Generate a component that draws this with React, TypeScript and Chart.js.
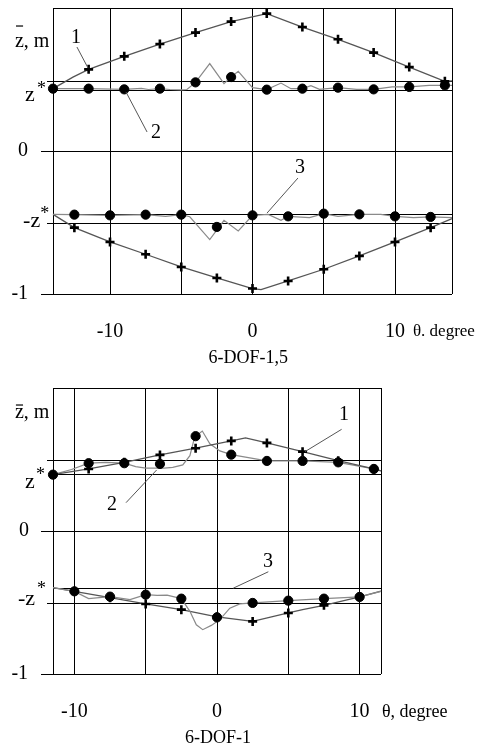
import React, { useEffect, useRef } from "react";
import { Chart, registerables } from "chart.js";
Chart.register(...registerables);

// ================= TOP CHART: 6-DOF-1,5 =================
const topThetaRange = [-14, 14];
const topGridTheta = [-14, -10, -5, 0, 5, 10, 14];
// curve 1 (crosses, upper)
const top1Theta = [-14, -12.6, -11.5, -9, -6.5, -4, -1.5, 1, 3.5, 6, 8.5, 11, 13.5, 14];
const top1Z = [0.436, 0.517, 0.571, 0.662, 0.748, 0.828, 0.905, 0.961, 0.867, 0.781, 0.688, 0.587, 0.487, 0.49];
const top1MarkTheta = [-11.5, -9, -6.5, -4, -1.5, 1, 3.5, 6, 8.5, 11, 13.5];
const top1MarkZ = [0.571, 0.662, 0.748, 0.828, 0.905, 0.961, 0.867, 0.781, 0.688, 0.587, 0.487];
// curve 2 (dots, upper, thin line)
const top2Theta = [-14, -11.5, -9, -7.8, -7.3, -6.5, -5.8, -5, -4.6, -4, -3, -2, -1.5, -1, -0.45, 0, 1, 2, 2.7, 3.5, 4.1, 4.7, 6, 7.3, 8.5, 9.8, 11, 12.4, 14];
const top2Z = [0.436, 0.436, 0.431, 0.438, 0.43, 0.436, 0.43, 0.428, 0.43, 0.48, 0.611, 0.471, 0.517, 0.557, 0.494, 0.443, 0.429, 0.475, 0.436, 0.436, 0.457, 0.431, 0.443, 0.431, 0.431, 0.448, 0.448, 0.459, 0.459];
const top2MarkTheta = [-14, -11.5, -9, -6.5, -4, -1.5, 1, 3.5, 6, 8.5, 11, 13.5];
const top2MarkZ = [0.436, 0.436, 0.431, 0.436, 0.48, 0.517, 0.429, 0.436, 0.443, 0.431, 0.448, 0.459];
// curve 3 (dots, lower, thin line)
const top3Theta = [-14, -12.5, -10, -7.5, -6.1, -5, -4.4, -3, -2, -1, 0, 1.1, 2, 2.5, 4, 5, 6, 7.5, 9, 10, 11.3, 12.5, 14];
const top3Z = [-0.443, -0.445, -0.45, -0.445, -0.457, -0.445, -0.46, -0.62, -0.485, -0.559, -0.45, -0.443, -0.485, -0.457, -0.466, -0.438, -0.457, -0.443, -0.443, -0.457, -0.466, -0.461, -0.466];
const top3MarkTheta = [-12.5, -10, -7.5, -5, -2.5, 0, 2.5, 5, 7.5, 10, 12.5];
const top3MarkZ = [-0.445, -0.45, -0.445, -0.445, -0.531, -0.45, -0.457, -0.438, -0.443, -0.457, -0.461];
// curve 4 (crosses, lower)
const top4Theta = [-14, -12.5, -10, -7.5, -5, -2.5, 0, 0.6, 2.5, 5, 7.5, 10, 12.5, 14];
const top4Z = [-0.443, -0.536, -0.636, -0.722, -0.811, -0.888, -0.962, -0.969, -0.909, -0.827, -0.734, -0.636, -0.536, -0.473];
const top4MarkTheta = [-12.5, -10, -7.5, -5, -2.5, 0, 2.5, 5, 7.5, 10, 12.5];
const top4MarkZ = [-0.536, -0.636, -0.722, -0.811, -0.888, -0.962, -0.909, -0.827, -0.734, -0.636, -0.536];
// reference levels z*
const topLevels = [0.49, 0.43, -0.44, -0.5];
const topLevelTicked = [true, false, false, true];

// ================= BOTTOM CHART: 6-DOF-1 =================
const botThetaRange = [-11.5, 11.5];
const botGridTheta = [-11.5, -10, -5, 0, 5, 10, 11.5];
const bot1Theta = [-11.5, -9, -6.5, -4, -1.5, 1, 2, 3.5, 6, 8.5, 11, 11.5];
const bot1Z = [0.394, 0.434, 0.48, 0.532, 0.579, 0.63, 0.651, 0.616, 0.555, 0.492, 0.434, 0.42];
const bot1MarkTheta = [-9, -6.5, -4, -1.5, 1, 3.5, 6, 8.5, 11];
const bot1MarkZ = [0.434, 0.48, 0.532, 0.579, 0.63, 0.616, 0.555, 0.492, 0.434];
const bot2Theta = [-11.5, -10.2, -9, -7.8, -6.5, -5.7, -5, -4.4, -3.7, -3.1, -2.4, -1.9, -1.65, -1.5, -1.03, -0.5, 0.2, 1, 3.5, 6, 8.5, 11, 11.5];
const bot2Z = [0.394, 0.43, 0.474, 0.48, 0.474, 0.45, 0.44, 0.44, 0.44, 0.445, 0.462, 0.527, 0.625, 0.663, 0.699, 0.61, 0.56, 0.534, 0.49, 0.49, 0.48, 0.434, 0.42];
const bot2MarkTheta = [-11.5, -9, -6.5, -4, -1.5, 1, 3.5, 6, 8.5, 11];
const bot2MarkZ = [0.394, 0.474, 0.474, 0.469, 0.663, 0.534, 0.49, 0.49, 0.48, 0.434];
const bot3Theta = [-11.5, -10, -9, -7.5, -6.1, -5, -4.2, -3.5, -2.5, -1.9, -1.45, -1, -0.4, 0.2, 0.9, 1.6, 2.5, 5, 7.5, 10, 11.5];
const bot3Z = [-0.396, -0.422, -0.473, -0.459, -0.48, -0.445, -0.45, -0.448, -0.473, -0.562, -0.656, -0.69, -0.66, -0.62, -0.54, -0.51, -0.503, -0.487, -0.473, -0.461, -0.422];
const bot3MarkTheta = [-10, -7.5, -5, -2.5, 0, 2.5, 5, 7.5, 10];
const bot3MarkZ = [-0.422, -0.459, -0.445, -0.473, -0.604, -0.503, -0.487, -0.473, -0.461];
const bot4Theta = [-11.5, -10, -7.5, -5, -2.5, 0, 2.5, 5, 6, 7.5, 10, 11.5];
const bot4Z = [-0.396, -0.422, -0.466, -0.51, -0.55, -0.6, -0.632, -0.573, -0.55, -0.52, -0.461, -0.42];
const bot4MarkTheta = [-10, -7.5, -5, -2.5, 0, 2.5, 5, 7.5, 10];
const bot4MarkZ = [-0.422, -0.466, -0.51, -0.55, -0.6, -0.632, -0.573, -0.52, -0.461];
const botLevels = [0.5, 0.4, -0.4, -0.5];
const botLevelTicked = [true, false, false, true];

const xTickLabels = ["-10", "0", "10"];
const xTickValues = [-10, 0, 10];

const FONT = '"Liberation Serif", "Times New Roman", serif';

type Txt = { t: string; x: number; y: number; align?: CanvasTextAlign; base?: CanvasTextBaseline; size?: number };
type Seg = [number, number, number, number];

const pts = (xs: number[], ys: number[]) => xs.map((x, i) => ({ x, y: ys[i] }));

function lineDs(xs: number[], ys: number[], color: string, width: number) {
  return {
    data: pts(xs, ys),
    showLine: true,
    borderColor: color,
    borderWidth: width,
    pointRadius: 0,
    tension: 0,
    order: 2,
    clip: false as any,
  };
}
function markDs(xs: number[], ys: number[], style: "cross" | "circle") {
  return {
    data: pts(xs, ys),
    showLine: false,
    pointStyle: style,
    pointRadius: style === "cross" ? 4.5 : 4.6,
    borderWidth: style === "cross" ? 2.6 : 1,
    borderColor: "#000",
    backgroundColor: "#000",
    order: 1,
    clip: false as any,
  };
}

function makeOverlay(levels: number[], ticked: boolean[], texts: Txt[], leaders: Seg[], overline: Seg) {
  return {
    id: "overlay",
    beforeDatasetsDraw(chart: any) {
      const { ctx, chartArea } = chart;
      const ys = chart.scales.y;
      ctx.save();
      ctx.strokeStyle = "#000";
      ctx.lineWidth = 1;
      levels.forEach((v, i) => {
        const y = Math.round(ys.getPixelForValue(v)) + 0.5;
        ctx.beginPath();
        ctx.moveTo(chartArea.left - (ticked[i] ? 6 : 0), y);
        ctx.lineTo(chartArea.right, y);
        ctx.stroke();
      });
      ctx.restore();
    },
    afterDraw(chart: any) {
      const { ctx } = chart;
      const xs = chart.scales.x;
      const ys = chart.scales.y;
      ctx.save();
      ctx.fillStyle = "#000";
      texts.forEach((tx) => {
        ctx.font = `${tx.size ?? 20}px ${FONT}`;
        ctx.textAlign = tx.align ?? "center";
        ctx.textBaseline = tx.base ?? "alphabetic";
        ctx.fillText(tx.t, xs.getPixelForValue(tx.x), ys.getPixelForValue(tx.y));
      });
      ctx.strokeStyle = "#555";
      ctx.lineWidth = 1;
      leaders.forEach((s) => {
        ctx.beginPath();
        ctx.moveTo(xs.getPixelForValue(s[0]), ys.getPixelForValue(s[1]));
        ctx.lineTo(xs.getPixelForValue(s[2]), ys.getPixelForValue(s[3]));
        ctx.stroke();
      });
      ctx.strokeStyle = "#000";
      ctx.lineWidth = 1.2;
      ctx.beginPath();
      ctx.moveTo(xs.getPixelForValue(overline[0]), ys.getPixelForValue(overline[1]));
      ctx.lineTo(xs.getPixelForValue(overline[2]), ys.getPixelForValue(overline[3]));
      ctx.stroke();
      ctx.restore();
    },
  };
}

function makeConfig(opts: {
  range: number[];
  grid: number[];
  datasets: any[];
  padding: any;
  overlay: any;
}) {
  return {
    type: "scatter" as const,
    data: { datasets: opts.datasets },
    options: {
      responsive: false,
      animation: false as const,
      layout: { padding: opts.padding },
      plugins: { legend: { display: false }, tooltip: { enabled: false } },
      scales: {
        x: {
          type: "linear" as const,
          min: opts.range[0],
          max: opts.range[1],
          afterBuildTicks: (s: any) => {
            s.ticks = opts.grid.map((v) => ({ value: v }));
          },
          ticks: { display: false },
          grid: { color: "#000", lineWidth: 1, drawTicks: false },
          border: { display: false },
        },
        y: {
          type: "linear" as const,
          min: -1,
          max: 1,
          afterBuildTicks: (s: any) => {
            s.ticks = [-1, 0, 1].map((v) => ({ value: v }));
          },
          ticks: { display: false },
          grid: {
            color: "#000",
            lineWidth: 1,
            drawTicks: true,
            tickLength: 12,
            tickColor: (c: any) => (c.tick && c.tick.value === 1 ? "rgba(0,0,0,0)" : "#000"),
          },
          border: { display: false },
        },
      },
    },
    plugins: [opts.overlay],
  };
}

const LINE_DARK = "#555";
const LINE_THIN = "#8a8a8a";

const topTexts: Txt[] = [
  { t: "0", x: -15.75, y: 0, align: "right", base: "middle" },
  { t: "-1", x: -15.75, y: -1, align: "right", base: "middle" },
  { t: "z", x: -15.96, y: 0.35, align: "left", size: 22 },
  { t: "*", x: -15.12, y: 0.4, align: "left", size: 18 },
  { t: "-z", x: -16.1, y: -0.531, align: "left", size: 22 },
  { t: "*", x: -14.9, y: -0.476, align: "left", size: 18 },
  { t: "z, m", x: -16.67, y: 0.727, align: "left" },
  ...xTickValues.map((v, i) => ({ t: xTickLabels[i], x: v, y: -1.3 })),
  { t: "θ. degree", x: 11.26, y: -1.294, align: "left", size: 17 },
  { t: "6-DOF-1,5", x: -0.3, y: -1.483, size: 18 },
  { t: "1", x: -12.39, y: 0.755 },
  { t: "2", x: -6.77, y: 0.091 },
  { t: "3", x: 3.33, y: -0.154 },
];
const topLeaders: Seg[] = [
  [-12.32, 0.727, -11.54, 0.58],
  [-7.4, 0.133, -8.88, 0.413],
  [3.19, -0.189, 1.02, -0.434],
];
const topOverline: Seg = [-16.6, 0.874, -16.1, 0.874];

const botTexts: Txt[] = [
  { t: "0", x: -13.18, y: 0, align: "right", base: "middle" },
  { t: "-1", x: -13.25, y: -1, align: "right", base: "middle" },
  { t: "z", x: -13.47, y: 0.3, align: "left", size: 22 },
  { t: "*", x: -12.69, y: 0.357, align: "left", size: 18 },
  { t: "-z", x: -13.96, y: -0.517, align: "left", size: 22 },
  { t: "*", x: -12.62, y: -0.44, align: "left", size: 18 },
  { t: "z, m", x: -14.17, y: 0.79, align: "left" },
  ...xTickValues.map((v, i) => ({ t: xTickLabels[i], x: v, y: -1.3 })),
  { t: "θ, degree", x: 11.57, y: -1.3, align: "left", size: 18 },
  { t: "6-DOF-1", x: 0.07, y: -1.483, size: 18 },
  { t: "1", x: 8.9, y: 0.776 },
  { t: "2", x: -7.36, y: 0.147 },
  { t: "3", x: 3.58, y: -0.252 },
];
const botLeaders: Seg[] = [
  [8.74, 0.711, 6.17, 0.555],
  [-6.38, 0.198, -4.23, 0.427],
  [3.6, -0.285, 1.14, -0.4],
];
const botOverline: Seg = [-14.1, 0.881, -13.6, 0.881];

function ChartCanvas({ config, width, height, top }: { config: any; width: number; height: number; top: number }) {
  const ref = useRef<HTMLCanvasElement | null>(null);
  useEffect(() => {
    if (!ref.current) return;
    const chart = new Chart(ref.current, config);
    return () => chart.destroy();
  }, [config]);
  return (
    <canvas
      ref={ref}
      width={width}
      height={height}
      style={{ position: "absolute", left: 0, top, width, height, display: "block" }}
    />
  );
}

const topConfig = makeConfig({
  range: topThetaRange,
  grid: topGridTheta,
  padding: { left: 41, right: 30, top: 8, bottom: 81 },
  overlay: makeOverlay(topLevels, topLevelTicked, topTexts, topLeaders, topOverline),
  datasets: [
    lineDs(top1Theta, top1Z, LINE_DARK, 1.3),
    lineDs(top2Theta, top2Z, LINE_THIN, 1.2),
    lineDs(top3Theta, top3Z, LINE_THIN, 1.2),
    lineDs(top4Theta, top4Z, LINE_DARK, 1.3),
    markDs(top1MarkTheta, top1MarkZ, "cross"),
    markDs(top2MarkTheta, top2MarkZ, "circle"),
    markDs(top3MarkTheta, top3MarkZ, "circle"),
    markDs(top4MarkTheta, top4MarkZ, "cross"),
  ],
});

const botConfig = makeConfig({
  range: botThetaRange,
  grid: botGridTheta,
  padding: { left: 41, right: 101, top: 13, bottom: 75 },
  overlay: makeOverlay(botLevels, botLevelTicked, botTexts, botLeaders, botOverline),
  datasets: [
    lineDs(bot1Theta, bot1Z, LINE_DARK, 1.3),
    lineDs(bot2Theta, bot2Z, LINE_THIN, 1.2),
    lineDs(bot3Theta, bot3Z, LINE_THIN, 1.2),
    lineDs(bot4Theta, bot4Z, LINE_DARK, 1.3),
    markDs(bot1MarkTheta, bot1MarkZ, "cross"),
    markDs(bot2MarkTheta, bot2MarkZ, "circle"),
    markDs(bot3MarkTheta, bot3MarkZ, "circle"),
    markDs(bot4MarkTheta, bot4MarkZ, "cross"),
  ],
});

export default function App() {
  return (
    <div style={{ position: "absolute", left: 0, top: 0, width: 482, height: 749, background: "#fff", overflow: "hidden" }}>
      <ChartCanvas config={topConfig} width={482} height={375} top={0} />
      <ChartCanvas config={botConfig} width={482} height={374} top={375} />
    </div>
  );
}
